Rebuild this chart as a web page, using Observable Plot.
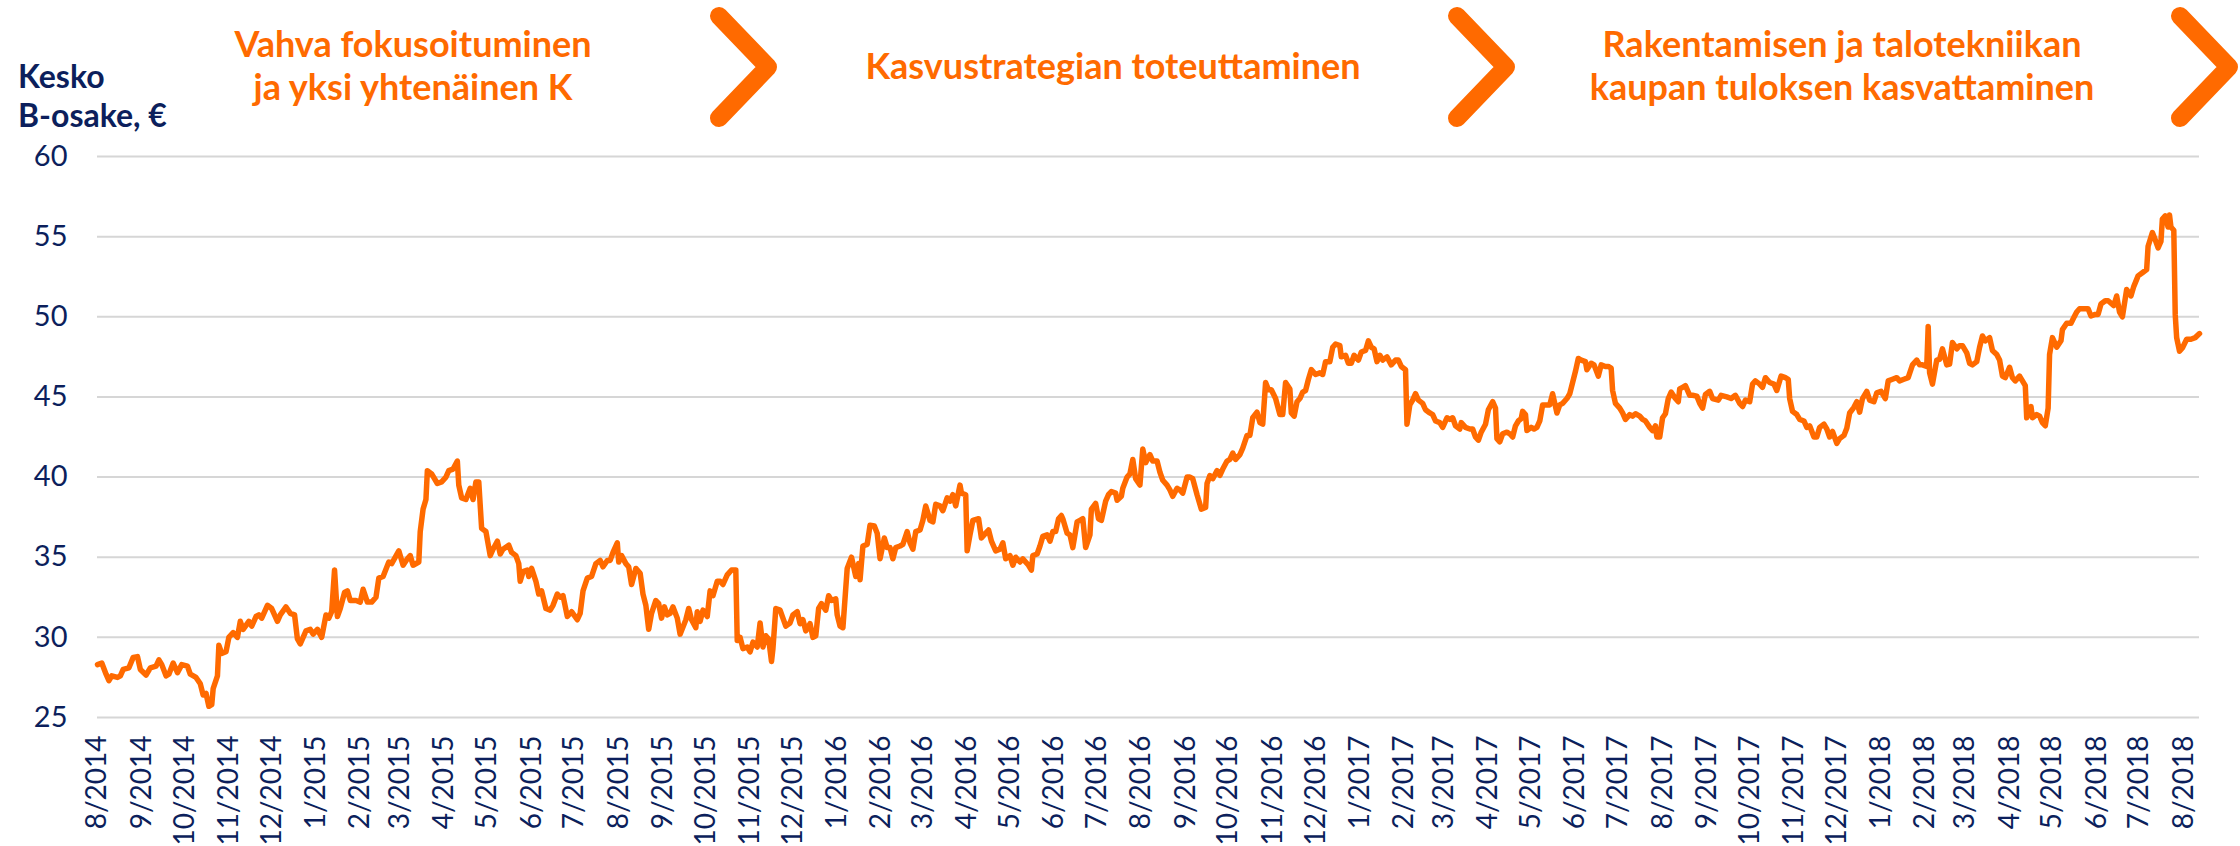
<!DOCTYPE html>
<html>
<head>
<meta charset="utf-8">
<script src="https://cdn.jsdelivr.net/npm/d3@7"></script>
<script src="https://cdn.jsdelivr.net/npm/@observablehq/plot@0.6"></script>
<style>
html, body { margin: 0; padding: 0; background: #fff; }
#wrap { position: relative; width: 2240px; height: 846px; overflow: hidden; font-family: Lato, "Noto Sans", sans-serif; }
#wrap svg { position: absolute; left: 0; top: 0; }
</style>
</head>
<body>
<div id="wrap"></div>
<script>
// ---------- data (day offsets counted from 1.8.2014, closing price in €) ----------
const p2014 = [[0,28.3],[3,28.4],[6,27.7],[8,27.3],[10,27.6],[14,27.5],[16,27.6],[18,28.0],[22,28.1],[25,28.75],[28,28.8],[30,28.0],[34,27.65],[37,28.1],[41,28.2],[43,28.6],[45,28.3],[48,27.6],[50,27.7],[53,28.4],[56,27.8],[59,28.3],[63,28.2],[65,27.7],[69,27.5],[72,27.1],[74,26.4],[76,26.5],[78,25.7],[80,25.8],[81,26.8],[84,27.6],[85,29.5],[87,29.0],[90,29.1],[92,30.0],[95,30.3],[98,30.0],[100,31.0],[102,30.5],[106,31.0],[108,30.7],[111,31.3],[113,31.4],[115,31.2],[119,32.0],[122,31.8],[126,31.0],[128,31.4],[132,31.9],[135,31.5],[138,31.4],[140,29.9],[142,29.6],[146,30.4],[149,30.5],[151,30.2]];
const p2015 = [[154,30.5],[157,30.0],[160,31.4],[162,31.2],[164,31.6],[166,34.2],[168,31.3],[170,31.8],[173,32.8],[175,32.9],[177,32.3],[181,32.3],[184,32.2],[186,33.0],[189,32.2],[192,32.2],[195,32.5],[197,33.7],[200,33.8],[204,34.7],[206,34.6],[211,35.4],[214,34.5],[217,34.9],[219,35.1],[221,34.5],[225,34.7],[226,36.6],[228,38.0],[230,38.6],[231,40.4],[234,40.2],[238,39.6],[241,39.7],[244,40.0],[246,40.4],[249,40.5],[252,41.0],[253,39.5],[255,38.7],[258,38.6],[261,39.3],[263,38.6],[265,39.7],[267,39.7],[269,36.8],[272,36.6],[275,35.1],[277,35.5],[280,36.0],[282,35.2],[284,35.5],[288,35.75],[290,35.3],[293,35.1],[295,34.6],[296,33.5],[298,34.1],[301,34.2],[302,33.8],[304,34.3],[307,33.5],[309,32.7],[311,32.9],[314,31.8],[317,31.7],[319,32.0],[322,32.7],[324,32.5],[326,32.6],[329,31.3],[332,31.6],[336,31.1],[338,31.5],[340,32.9],[343,33.7],[346,33.8],[349,34.6],[352,34.8],[354,34.4],[357,34.8],[359,34.8],[361,35.3],[364,35.9],[365,34.7],[367,35.1],[370,34.6],[372,34.4],[374,33.3],[377,34.3],[380,34.0],[382,32.7],[384,32.0],[386,30.5],[388,31.5],[391,32.3],[393,32.1],[395,31.2],[397,31.9],[399,31.4],[401,31.5],[403,31.9],[406,31.2],[408,30.2],[412,31.1],[414,31.8],[416,31.1],[419,30.6],[420,31.6],[422,31.0],[424,31.7],[427,31.3],[429,32.9],[431,32.6],[434,33.5],[436,33.5],[438,33.3],[441,33.9],[444,34.2],[447,34.2],[448,29.8],[450,30.0],[452,29.3],[455,29.4],[457,29.1],[459,29.7],[462,29.4],[464,30.9],[466,29.4],[468,30.1],[470,29.9],[472,28.5],[473,29.3],[475,31.8],[478,31.7],[480,31.2],[482,30.7],[485,30.9],[487,31.4],[490,31.6],[492,30.85],[494,31.1],[496,30.4],[499,30.85],[501,30.0],[503,30.1],[505,31.8],[507,32.1],[510,31.7],[512,32.6],[514,32.3],[517,32.4]];
const p2016 = [[518,31.4],[520,30.7],[522,30.6],[525,34.3],[528,35.0],[531,33.8],[533,34.6],[534,33.6],[536,35.7],[539,35.8],[541,37.0],[544,36.95],[546,36.5],[548,34.9],[551,36.2],[553,35.6],[555,35.6],[557,34.9],[559,35.6],[562,35.7],[564,35.8],[567,36.6],[569,35.9],[571,35.5],[573,36.6],[576,36.7],[578,37.3],[580,38.2],[583,37.3],[585,37.2],[587,38.3],[590,38.2],[592,37.9],[595,38.7],[597,38.5],[599,38.9],[601,38.2],[604,39.5],[605,39.0],[608,38.9],[609,35.4],[611,36.4],[613,37.3],[617,37.4],[619,36.2],[622,36.5],[624,36.7],[626,36.0],[629,35.4],[632,35.5],[634,35.9],[636,34.9],[639,35.1],[641,34.5],[643,35.0],[646,34.7],[648,34.9],[652,34.5],[654,34.2],[655,35.1],[658,35.2],[660,35.7],[662,36.3],[665,36.4],[667,36.0],[669,36.6],[671,36.6],[673,37.4],[675,37.6],[676,37.4],[679,36.5],[681,36.4],[683,35.6],[686,37.2],[688,37.3],[690,37.4],[692,35.6],[695,36.4],[696,38.0],[699,38.35],[701,37.4],[703,37.3],[706,38.5],[708,38.9],[710,39.1],[713,39.0],[714,38.55],[717,38.8],[718,39.3],[721,40.0],[723,40.2],[725,41.1],[727,39.9],[730,39.5],[732,41.75],[734,40.9],[737,41.4],[739,41.0],[742,41.0],[744,40.3],[746,39.8],[749,39.5],[751,39.2],[753,38.8],[756,39.3],[758,39.2],[760,39.0],[763,40.0],[765,40.0],[767,39.9],[770,38.9],[773,38.0],[776,38.1],[777,39.6],[779,40.1],[781,39.9],[784,40.4],[786,40.1],[788,40.5],[791,41.0],[793,41.1],[795,41.5],[797,41.1],[800,41.4],[802,41.8],[805,42.6],[807,42.6],[809,43.7],[812,44.05],[814,43.4],[816,43.3],[818,45.9],[820,45.45],[822,45.45],[825,44.9],[828,43.9],[830,43.9],[832,45.9],[835,45.5],[836,44.0],[838,43.8],[840,44.7],[842,44.9],[844,45.3],[846,45.4],[848,46.1],[850,46.7],[853,46.4],[856,46.5],[858,46.4],[860,47.2],[863,47.2],[865,48.1],[867,48.3],[870,48.2],[871,47.5],[874,47.6],[876,47.1],[878,47.1],[880,47.6],[883,47.3]];
const p2017 = [[885,47.8],[888,47.9],[890,48.5],[892,48.1],[894,48.0],[896,47.2],[898,47.6],[900,47.3],[903,47.5],[906,47.0],[909,47.3],[911,47.3],[913,46.9],[916,46.7],[917,43.3],[919,44.5],[921,44.8],[923,45.2],[925,44.8],[928,44.6],[930,44.2],[933,44.0],[935,43.9],[937,43.5],[940,43.4],[942,43.1],[945,43.7],[947,43.6],[949,43.7],[951,43.2],[954,43.0],[955,43.4],[958,43.1],[961,43.0],[963,43.0],[965,42.5],[967,42.3],[969,42.8],[972,43.3],[974,44.2],[977,44.7],[979,44.3],[980,42.4],[982,42.2],[984,42.7],[987,42.8],[989,42.7],[991,42.5],[993,43.2],[995,43.5],[997,43.65],[998,44.1],[1000,43.9],[1001,42.9],[1004,43.1],[1006,43.0],[1008,43.1],[1010,43.5],[1012,44.5],[1015,44.5],[1017,44.5],[1019,45.2],[1022,44.0],[1024,44.5],[1026,44.6],[1029,44.9],[1031,45.2],[1033,45.9],[1035,46.6],[1037,47.4],[1039,47.3],[1042,47.2],[1043,46.7],[1046,47.1],[1048,47.0],[1051,46.3],[1053,47.0],[1056,46.9],[1058,46.9],[1060,46.8],[1061,45.4],[1063,44.6],[1066,44.3],[1068,44.0],[1070,43.6],[1073,43.9],[1075,43.8],[1077,43.95],[1080,43.8],[1082,43.6],[1084,43.5],[1087,43.1],[1089,42.9],[1091,43.2],[1092,42.5],[1094,42.5],[1096,43.7],[1098,43.95],[1100,44.9],[1102,45.3],[1105,44.9],[1107,44.7],[1108,45.5],[1110,45.6],[1112,45.7],[1115,45.1],[1117,45.1],[1120,45.05],[1122,44.6],[1124,44.3],[1126,45.15],[1129,45.35],[1131,44.9],[1135,44.8],[1137,45.1],[1141,45.0],[1144,44.9],[1147,45.1],[1150,44.6],[1152,44.4],[1154,44.8],[1157,44.7],[1159,45.8],[1161,46.0],[1164,45.8],[1166,45.6],[1168,46.2],[1171,45.9],[1174,45.8],[1176,45.4],[1179,46.3],[1182,46.2],[1184,46.1],[1185,44.9],[1187,44.1],[1190,43.9],[1192,43.6],[1195,43.5],[1197,43.1],[1199,43.2],[1202,42.5],[1204,42.5],[1206,43.1],[1209,43.3],[1211,43.0],[1213,42.5],[1215,42.85],[1218,42.1],[1220,42.4],[1223,42.6],[1225,43.05],[1227,44.0],[1230,44.35],[1232,44.7],[1234,44.05],[1236,44.9],[1239,45.35],[1241,44.8],[1244,44.7],[1246,45.25]];
const p2018 = [[1249,45.35],[1252,44.9],[1254,46.0],[1257,46.1],[1260,46.2],[1262,46.0],[1265,46.1],[1268,46.2],[1271,47.0],[1274,47.3],[1276,47.0],[1278,47.0],[1281,46.9],[1282,49.4],[1283,46.5],[1285,45.8],[1288,47.3],[1290,47.35],[1292,48.0],[1295,47.0],[1297,47.05],[1299,48.4],[1302,48.0],[1304,48.2],[1306,48.2],[1309,47.75],[1311,47.1],[1313,47.0],[1316,47.2],[1318,48.1],[1320,48.8],[1322,48.5],[1325,48.7],[1327,47.9],[1330,47.65],[1332,47.3],[1334,46.3],[1336,46.2],[1339,46.85],[1341,46.2],[1343,46.0],[1346,46.3],[1348,46.0],[1350,45.7],[1351,43.7],[1354,44.4],[1355,43.7],[1358,43.9],[1360,43.8],[1362,43.4],[1364,43.2],[1366,44.3],[1367,47.65],[1369,48.7],[1372,48.1],[1375,48.5],[1376,49.2],[1379,49.6],[1382,49.6],[1384,49.95],[1386,50.3],[1388,50.5],[1390,50.5],[1394,50.5],[1396,50.05],[1399,50.15],[1401,50.15],[1403,50.8],[1406,51.0],[1408,51.0],[1412,50.7],[1414,51.3],[1416,50.3],[1418,50.0],[1421,51.7],[1424,51.3],[1426,51.9],[1429,52.55],[1432,52.75],[1435,52.95],[1436,54.4],[1439,55.25],[1441,54.8],[1443,54.3],[1445,54.7],[1446,56.1],[1448,56.3],[1450,55.6],[1451,56.35],[1452,55.6],[1454,55.4],[1455,50.15],[1456,48.7],[1458,47.85],[1460,48.05],[1463,48.6],[1466,48.6],[1469,48.7],[1472,48.95]];

const yTicks = [25, 30, 35, 40, 45, 50, 55, 60];
const tickLabels = ["8/2014","9/2014","10/2014","11/2014","12/2014","1/2015","2/2015","3/2015","4/2015","5/2015","6/2015","7/2015","8/2015","9/2015","10/2015","11/2015","12/2015","1/2016","2/2016","3/2016","4/2016","5/2016","6/2016","7/2016","8/2016","9/2016","10/2016","11/2016","12/2016","1/2017","2/2017","3/2017","4/2017","5/2017","6/2017","7/2017","8/2017","9/2017","10/2017","11/2017","12/2017","1/2018","2/2018","3/2018","4/2018","5/2018","6/2018","7/2018","8/2018"];
const yTitle = ["Kesko", "B-osake, €"];
const phaseTitles = [
  ["Vahva fokusoituminen", "ja yksi yhtenäinen K"],
  ["Kasvustrategian toteuttaminen"],
  ["Rakentamisen ja talotekniikan", "kaupan tuloksen kasvattaminen"]
];

// ---------- build ----------
const ORANGE = "#ff6a00";
const NAVY = "#0c1f5c";
const startMs = Date.UTC(2014, 7, 1);
const toDate = d => new Date(startMs + d * 864e5);
const series = [...p2014, ...p2015, ...p2016, ...p2017, ...p2018].map(([d, v]) => ({date: toDate(d), price: v}));
const monthTicks = tickLabels.map(s => { const [m, y] = s.split("/").map(Number); return new Date(Date.UTC(y, m - 1, 1)); });
const fmt = d => `${d.getUTCMonth() + 1}/${d.getUTCFullYear()}`;

const chart = Plot.plot({
  width: 2240,
  height: 846,
  marginLeft: 97,
  marginRight: 41,
  marginTop: 156,
  marginBottom: 129,
  style: {fontFamily: "Lato, 'Noto Sans', sans-serif", background: "transparent"},
  x: {type: "utc", domain: [series[0].date, series[series.length - 1].date]},
  y: {domain: [25, 60]},
  marks: [
    Plot.gridY(yTicks, {stroke: "#d6d6d6", strokeOpacity: 1, strokeWidth: 2}),
    Plot.axisY(yTicks, {tickSize: 0, tickPadding: 30, fontSize: 29, fill: NAVY, label: null}),
    Plot.axisX(monthTicks, {tickSize: 0, tickPadding: 18, tickRotate: -90, fontSize: 28, fill: NAVY, label: null, tickFormat: fmt}),
    Plot.line(series, {x: "date", y: "price", stroke: ORANGE, strokeWidth: 5.5, strokeLinejoin: "round", strokeLinecap: "round"})
  ]
});
document.getElementById("wrap").appendChild(chart);

// ---------- header overlay (titles and chevrons) ----------
const ov = d3.select("#wrap").append("svg")
  .attr("width", 2240).attr("height", 846)
  .style("pointer-events", "none")
  .attr("font-family", "Lato, 'Noto Sans', sans-serif");

ov.append("g").selectAll("text").data(yTitle).join("text")
  .attr("x", 18).attr("y", (d, i) => 88 + i * 39)
  .attr("fill", NAVY).attr("font-weight", 700).attr("font-size", 32)
  .text(d => d);

const phaseX = [413, 1113, 1842];
phaseTitles.forEach((lines, k) => {
  const base = lines.length === 2 ? 57 : 79;
  ov.append("g").selectAll("text").data(lines).join("text")
    .attr("x", phaseX[k]).attr("y", (d, i) => base + i * 43)
    .attr("text-anchor", "middle")
    .attr("fill", ORANGE).attr("font-weight", 700).attr("font-size", 36)
    .text(d => d);
});

const chevronX = [719, 1457, 2180];
ov.append("g").selectAll("path").data(chevronX).join("path")
  .attr("d", x => `M${x},16L${x + 49},67L${x},118`)
  .attr("fill", "none").attr("stroke", ORANGE).attr("stroke-width", 18)
  .attr("stroke-linecap", "round").attr("stroke-linejoin", "round");
</script>
</body>
</html>
